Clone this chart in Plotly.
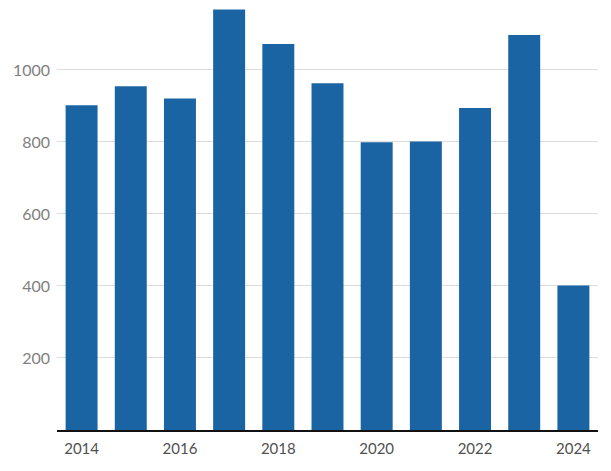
import plotly.graph_objects as go

years = [2014, 2015, 2016, 2017, 2018, 2019, 2020, 2021, 2022, 2023, 2024]
values = [902, 955, 921, 1168, 1072, 963, 799, 801, 894, 1097, 401]
y_ticks = [200, 400, 600, 800, 1000]
x_ticks = [2014, 2016, 2018, 2020, 2022, 2024]

fig = go.Figure(go.Bar(x=years, y=values, marker=dict(color="#1a64a4", line=dict(width=0)), width=0.65))

fig.update_layout(
    width=603, height=463,
    margin=dict(l=49, r=13, t=0, b=41),
    paper_bgcolor="white", plot_bgcolor="white",
    showlegend=False,
    font=dict(family="Lato, Open Sans, sans-serif", size=15, color="#666"),
    bargap=0.35,
)
fig.update_xaxes(
    range=[2013.5, 2024.5], tickvals=x_ticks, ticktext=[str(t) for t in x_ticks],
    showline=True, linecolor="#111", linewidth=2, showgrid=False, ticks="",
    tickfont=dict(color="#505050", size=15), ticklabelstandoff=4,
)
fig.update_yaxes(
    range=[0, 1172], tickvals=y_ticks, showgrid=True, gridcolor="#dddddd", gridwidth=1,
    zeroline=False, showline=False, ticks="", tickfont=dict(color="#808080", size=16),
    ticklabelstandoff=6,
)
fig.write_html("out.html")
